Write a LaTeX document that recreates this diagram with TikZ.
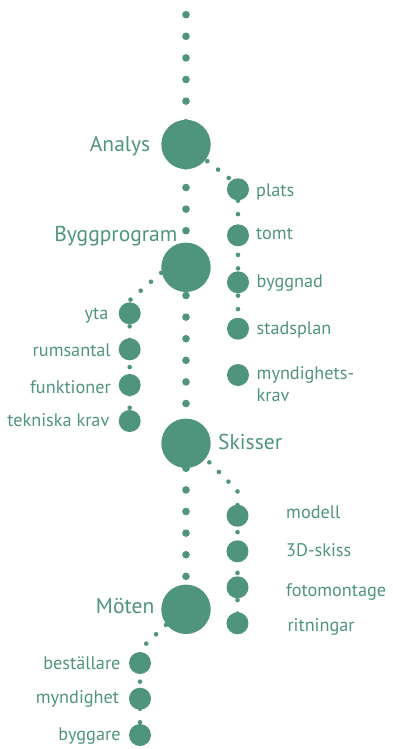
\documentclass[tikz,border=0pt]{standalone}
\usepackage{fontspec}
\setmainfont{PT Sans}
\usetikzlibrary{backgrounds}
\definecolor{gr}{RGB}{79,148,125}
\begin{document}
\begin{tikzpicture}[x=1bp,y=-1bp,
  big/.style={circle, fill=gr, minimum size=49.4bp, inner sep=0pt},
  small/.style={circle, fill=gr, minimum size=22bp, inner sep=0pt},
  spine/.style={draw=gr, line width=7.6bp, line cap=round, dash pattern=on 0bp off 21.6bp},
  twig/.style={draw=gr, line width=4.6bp, line cap=round, dash pattern=on 0bp off 13.57bp},
  biglab/.style={text=gr, font=\fontsize{21.6}{24}\selectfont, inner sep=0pt},
  lab/.style={text=gr, font=\fontsize{18.3}{22.4}\selectfont, inner sep=0pt}]
\useasboundingbox (0,0) rectangle (392,749);
% main stages
\node[big] (analys) at (186,144.5) {};
\node[big] (bygg) at (186,267.3) {};
\node[big] (skisser) at (186,443.3) {};
\node[big] (moten) at (186,609.3) {};
\coordinate (top) at (186,14.7);
% Analys branch
\node[small] (plats) at (238,189.3) {};
\node[small] (tomt) at (238,235.3) {};
\node[small] (byggnad) at (238,282.3) {};
\node[small] (stadsplan) at (238,328.7) {};
\node[small] (mynd) at (238,375) {};
% Byggprogram branch
\node[small] (yta) at (129.7,313.3) {};
\node[small] (rums) at (129.7,349.3) {};
\node[small] (funk) at (129.7,385) {};
\node[small] (tek) at (129.7,421) {};
% Skisser branch
\node[small] (modell) at (237.5,515.7) {};
\node[small] (skiss) at (237.5,551.3) {};
\node[small] (foto) at (237.5,587.3) {};
\node[small] (rit) at (237.5,623.3) {};
% Moten branch
\node[small] (best) at (140,663) {};
\node[small] (myndig) at (140,698.7) {};
\node[small] (byggare) at (140,735) {};
% corners
\coordinate (c1) at (238,185.2);
\coordinate (s2) at (171.4,263.9);
\coordinate (c2) at (129.7,300.3);
\coordinate (s3) at (190.3,443);
\coordinate (c3) at (237.5,490.8);
\coordinate (s4) at (185.7,606.3);
\coordinate (c4) at (140,649.5);
\begin{scope}[on background layer]
\draw[spine] (top) -- (moten.center);
\draw[twig] (analys.center) -- (c1) -- (stadsplan.center);
\draw[twig] (s2) -- (c2) -- (tek.center);
\draw[twig] (s3) -- (c3) -- (rit.center);
\draw[twig] (s4) -- (c4) -- (byggare.center);
\end{scope}
% labels
\node[biglab, anchor=base east] (tanalys) at (150.5,151) {Analys};
\node[biglab, anchor=base east] (tbygg) at (177.5,241) {Byggprogram};
\node[biglab, anchor=base west] (tskisser) at (218,449.3) {Skisser};
\node[biglab, anchor=base east] (tmoten) at (154.5,613.3) {Möten};
\node[lab, anchor=base west] (tplats) at (256,196.7) {plats};
\node[lab, anchor=base west] (ttomt) at (256,239.5) {tomt};
\node[lab, anchor=base west] (tbyggnad) at (256.5,287.3) {byggnad};
\node[lab, anchor=base west] (tstadsplan) at (256.5,334) {stadsplan};
\node[lab, anchor=base west, align=left] (tmynd) at (256.5,401.7) {myndighets-\\krav};
\node[lab, anchor=base east] (tyta) at (108.5,319.3) {yta};
\node[lab, anchor=base east] (trums) at (111,356) {rumsantal};
\node[lab, anchor=base east] (tfunk) at (111,393.3) {funktioner};
\node[lab, anchor=base east] (ttek) at (109.5,426.7) {tekniska krav};
\node[lab, anchor=base west] (tmodell) at (286,518.3) {modell};
\node[lab, anchor=base west] (tskiss) at (286,556.7) {3D-skiss};
\node[lab, anchor=base west] (tfoto) at (286,596) {fotomontage};
\node[lab, anchor=base west] (trit) at (287.3,631) {ritningar};
\node[lab, anchor=base east] (tbest) at (120.7,669) {beställare};
\node[lab, anchor=base east] (tmyndig) at (119.3,703.7) {myndighet};
\node[lab, anchor=base east] (tbyggare) at (120.7,740) {byggare};
\end{tikzpicture}
\end{document}
